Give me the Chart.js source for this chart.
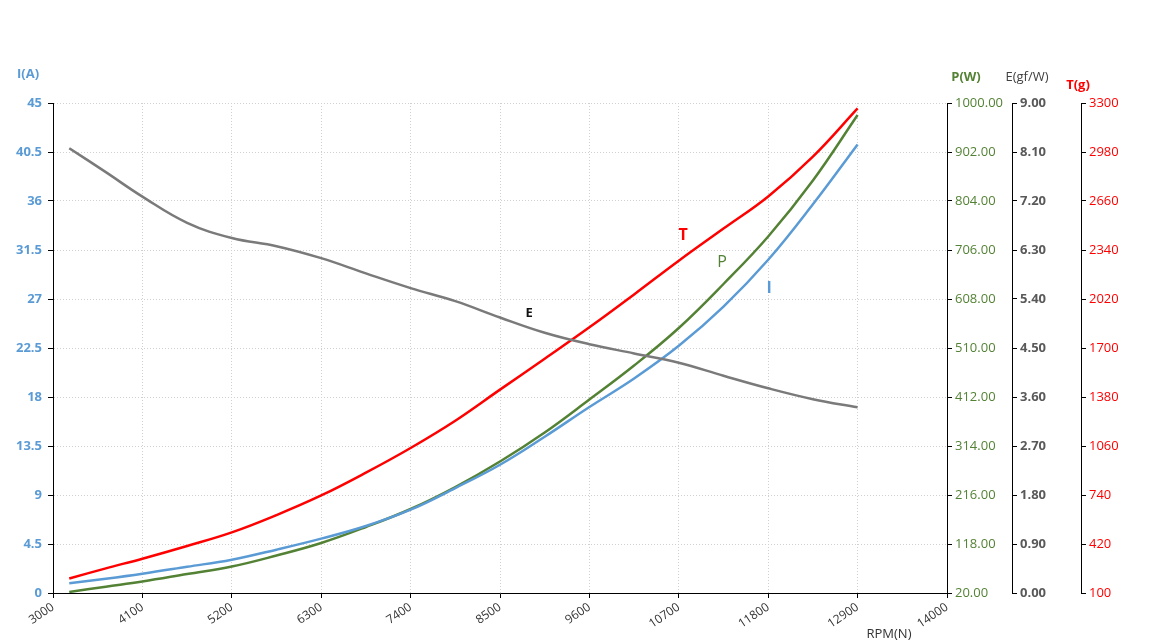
<!DOCTYPE html>
<html><head><meta charset="utf-8">
<script src="https://cdn.jsdelivr.net/npm/chart.js@4.4.0/dist/chart.umd.min.js"></script>
<style>html,body{margin:0;padding:0;background:#fff;overflow:hidden}#wrap{width:1165px;height:643px;position:relative}</style>
</head><body><div id="wrap"><canvas id="c" width="1165" height="643"></canvas></div>
<script>
// ---- data ----
const rpm      = [3200, 3650, 4100, 4650, 5200, 5750, 6300, 6850, 7400, 7950, 8500, 9050, 9600, 10150, 10700, 11250, 11800, 12350, 12900];
const currentA = [0.9, 1.31, 1.77, 2.41, 3.06, 3.98, 4.99, 6.15, 7.65, 9.64, 11.78, 14.35, 17.08, 19.7, 22.7, 26.3, 30.6, 35.7, 41.2];
const powerW   = [22, 32.6, 43, 58, 73, 95, 120, 152, 188, 232, 283, 341, 407, 475, 550, 638, 733, 845, 976];
const efficE   = [8.17, 7.73, 7.28, 6.8, 6.52, 6.37, 6.15, 5.87, 5.6, 5.36, 5.06, 4.78, 4.57, 4.4, 4.23, 3.99, 3.76, 3.56, 3.41];
const thrustG  = [195, 261, 324, 407, 496, 609, 737, 886, 1047, 1225, 1428, 1630, 1835, 2050, 2270, 2480, 2690, 2950, 3265];

const xTicks = [3000, 4100, 5200, 6300, 7400, 8500, 9600, 10700, 11800, 12900, 14000];
const iTicks = [0, 4.5, 9, 13.5, 18, 22.5, 27, 31.5, 36, 40.5, 45];
const pTicks = [20, 118, 216, 314, 412, 510, 608, 706, 804, 902, 1000];
const eTicks = [0, 0.9, 1.8, 2.7, 3.6, 4.5, 5.4, 6.3, 7.2, 8.1, 9];
const tTicks = [100, 420, 740, 1060, 1380, 1700, 2020, 2340, 2660, 2980, 3300];

const FONT = '"Open Sans", Lato, sans-serif';
const BLUE = '#5B9BD5', GREEN = '#548235', RED = '#FF0000', GRAY = '#7a7a7a';

const pts = (ys) => rpm.map((x, i) => ({x: x, y: ys[i]}));
const fixTicks = (arr) => (scale) => { scale.ticks = arr.map(v => ({value: v})); };
const fixWidth = (w) => (scale) => { scale.width = w; };

const textPlugin = {
  id: 'texts',
  afterDraw(chart) {
    const ctx = chart.ctx, ca = chart.chartArea, s = chart.scales;
    ctx.save();
    ctx.textAlign = 'center';
    ctx.textBaseline = 'middle';
    const put = (t, x, y, font, color) => { ctx.font = font; ctx.fillStyle = color; ctx.fillText(t, x, y); };
    // axis titles
    put('I(A)', 28, ca.top - 29, 'bold 13px ' + FONT, BLUE);
    put('P(W)', s.yP.left + 19, ca.top - 26, 'bold 13px ' + FONT, GREEN);
    put('E(gf/W)', s.yE.left + 15, ca.top - 26, '13px ' + FONT, '#404040');
    put('T(g)', s.yT.left - 3, ca.top - 18, 'bold 13px ' + FONT, RED);
    put('RPM(N)', ca.right - 58, 634, '13px ' + FONT, '#333');
    // series labels
    const X = (v) => s.x.getPixelForValue(v), Y = (v) => s.yI.getPixelForValue(v);
    put('T', X(10752), Y(32.8), 'bold 16px ' + FONT, RED);
    put('P', X(11233), Y(30.4), '16px ' + FONT, GREEN);
    put('I', X(11811), Y(28.0), 'bold 16px ' + FONT, BLUE);
    put('E', X(8858), Y(25.7), 'bold 13px ' + FONT, '#111');
    ctx.restore();
  }
};

const gridDotted = {color: '#d0d0d0', tickColor: '#000', tickLength: 5, tickBorderDash: []};
const axisBorder = {color: '#000', width: 1, dash: [1, 2]};

new Chart(document.getElementById('c'), {
  type: 'line',
  data: {
    datasets: [
      {label: 'E', data: pts(efficE), yAxisID: 'yE', borderColor: GRAY, borderWidth: 2.5},
      {label: 'I', data: pts(currentA), yAxisID: 'yI', borderColor: BLUE, borderWidth: 2.5},
      {label: 'P', data: pts(powerW), yAxisID: 'yP', borderColor: GREEN, borderWidth: 2.5},
      {label: 'T', data: pts(thrustG), yAxisID: 'yT', borderColor: RED, borderWidth: 2.5}
    ]
  },
  options: {
    responsive: false,
    animation: false,
    devicePixelRatio: 1,
    layout: {padding: {top: 103, left: 0, right: 0, bottom: 0}},
    elements: {point: {radius: 0}, line: {tension: 0.4, fill: false}},
    plugins: {legend: {display: false}, tooltip: {enabled: false}},
    scales: {
      x: {
        type: 'linear', min: 3000, max: 14000,
        afterBuildTicks: fixTicks(xTicks),
        afterFit: (sc) => { sc.height = 50; },
        grid: gridDotted,
        border: axisBorder,
        ticks: {minRotation: 34, maxRotation: 34, padding: 2, color: '#333', font: {family: FONT, size: 12}, autoSkip: false, callback: (v) => String(v)}
      },
      yI: {
        position: 'left', min: 0, max: 45,
        afterBuildTicks: fixTicks(iTicks),
        afterFit: fixWidth(53),
        grid: gridDotted,
        border: axisBorder,
        ticks: {color: BLUE, padding: 6, font: {family: FONT, size: 13, weight: 'bold'}, callback: (v) => String(v)}
      },
      yP: {
        position: 'right', weight: 0, min: 20, max: 1000,
        afterBuildTicks: fixTicks(pTicks),
        afterFit: fixWidth(65),
        grid: {drawOnChartArea: false, tickColor: '#000', tickLength: 5},
        border: {color: '#000', width: 1},
        ticks: {color: GREEN, padding: 3, font: {family: FONT, size: 13}, callback: (v) => Number(v).toFixed(2)}
      },
      yE: {
        position: 'right', weight: 1, min: 0, max: 9,
        afterBuildTicks: fixTicks(eTicks),
        afterFit: fixWidth(69),
        grid: {drawOnChartArea: false, tickColor: '#000', tickLength: 5},
        border: {color: '#000', width: 1},
        ticks: {color: '#595959', padding: 3, font: {family: FONT, size: 13, weight: 'bold'}, callback: (v) => Number(v).toFixed(2)}
      },
      yT: {
        position: 'right', weight: 2, min: 100, max: 3300,
        afterBuildTicks: fixTicks(tTicks),
        afterFit: fixWidth(84),
        grid: {drawOnChartArea: false, tickColor: '#000', tickLength: 5},
        border: {color: '#000', width: 1},
        ticks: {color: RED, padding: 3, font: {family: FONT, size: 13}, callback: (v) => String(v)}
      }
    }
  },
  plugins: [textPlugin]
});
</script>
</body></html>
